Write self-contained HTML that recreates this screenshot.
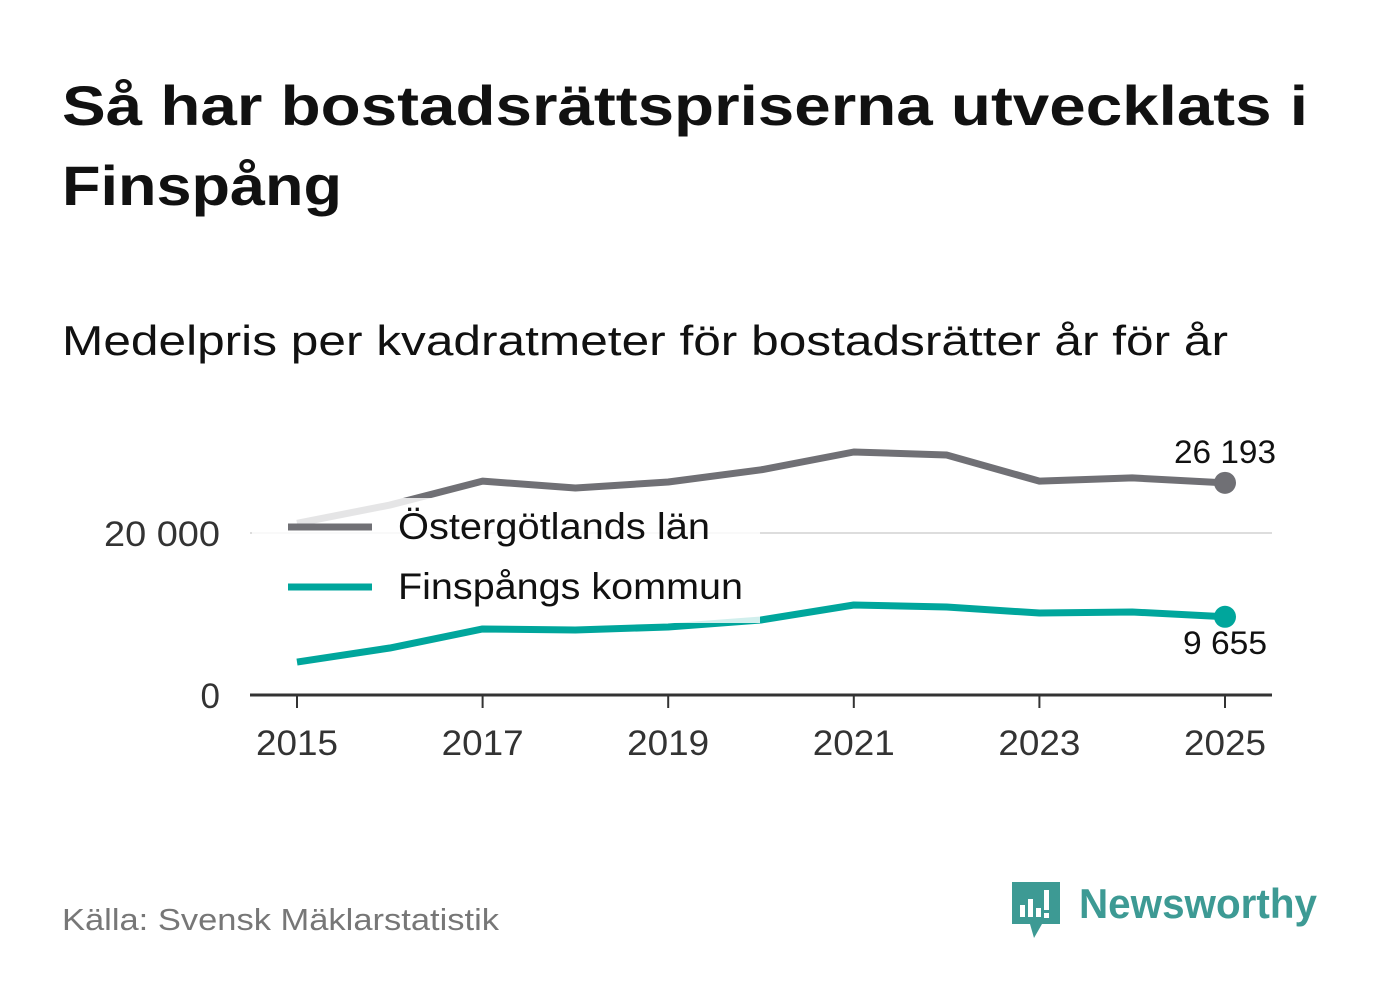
<!DOCTYPE html>
<html><head><meta charset="utf-8"><style>
body{margin:0;background:#fff;}
svg{display:block;font-family:"Liberation Sans","DejaVu Sans",sans-serif;}
</style></head><body>
<svg id="c" width="1382" height="999" viewBox="0 0 1382 999">
<text x="62" y="125" font-size="56" font-weight="bold" fill="#111" textLength="1246" lengthAdjust="spacingAndGlyphs">Så har bostadsrättspriserna utvecklats i</text>
<text x="62" y="205" font-size="56" font-weight="bold" fill="#111" textLength="280" lengthAdjust="spacingAndGlyphs">Finspång</text>
<text x="62" y="355" font-size="42" fill="#111" textLength="1166" lengthAdjust="spacingAndGlyphs">Medelpris per kvadratmeter för bostadsrätter år för år</text>
<g id="plot"></g>
<text x="62" y="930" font-size="31" fill="#777" textLength="437" lengthAdjust="spacingAndGlyphs">Källa: Svensk Mäklarstatistik</text>
<g>
<path d="M1012 882 h48 v42 h-18 l-8 14 l-4 -14 h-18 z" fill="#3d9a94"/>
<rect x="1020" y="905" width="5" height="12" fill="#fff"/><rect x="1028" y="899" width="5" height="18" fill="#fff"/><rect x="1036" y="908" width="5" height="9" fill="#fff"/><rect x="1044" y="890" width="5" height="20" fill="#fff"/><rect x="1044" y="913" width="5" height="5" fill="#fff"/>
<text x="1079" y="918" font-size="42" font-weight="bold" fill="#3d9a94" textLength="238" lengthAdjust="spacingAndGlyphs">Newsworthy</text>
</g>
</svg>
<script>
const years=[2015,2016,2017,2018,2019,2020,2021,2022,2023,2024,2025];
const ostergotland=[21200,23450,26400,25550,26300,27800,30000,29630,26400,26800,26193];
const finspang=[4070,5800,8150,8020,8400,9260,11110,10860,10120,10250,9655];
const yTicks=[0,20000];
const yTickLabels=["0","20 000"];
const xTicks=[2015,2017,2019,2021,2023,2025];
const NS='http://www.w3.org/2000/svg';
const g=document.getElementById('plot');
const X=y=>297+(y-2015)*92.8;
const Y=v=>695-v*0.0081;
function el(t,a){const e=document.createElementNS(NS,t);for(const k in a)e.setAttribute(k,a[k]);g.appendChild(e);return e;}
yTicks.forEach((v,i)=>{
 if(v>0){const l=el('line',{x1:250,x2:1272,y1:Y(v),y2:Y(v),stroke:'#ddd','stroke-width':2});
 
 }
 const t=el('text',{x:220,y:Y(v)+13,'font-size':35,'text-anchor':'end',fill:'#333'});t.textContent=yTickLabels[i];
 if(v>0){t.setAttribute('textLength',116);t.setAttribute('lengthAdjust','spacingAndGlyphs');}
 
 
});
const ax=el('line',{x1:250,x2:1272,y1:695,y2:695,stroke:'#333','stroke-width':3});


xTicks.forEach(yr=>{
 const tk=el('line',{x1:X(yr),x2:X(yr),y1:695,y2:708,stroke:'#333','stroke-width':2});
 
 
 const t=el('text',{x:X(yr),y:755,'font-size':35,'text-anchor':'middle',fill:'#333',textLength:82,lengthAdjust:'spacingAndGlyphs'});t.textContent=yr;
 
 
});
function series(vals,col,name){
 const p=el('polyline',{points:vals.map((v,i)=>X(years[i])+','+Y(v)).join(' '),fill:'none',stroke:col,'stroke-width':7,'stroke-linejoin':'round'});
 
 
 const n=vals.length-1;
 const c=el('circle',{cx:X(years[n]),cy:Y(vals[n]),r:11,fill:col});
 
 
}
series(ostergotland,'#707075','ostergotland');
series(finspang,'#00a69c','finspang');
const fmt=v=>String(v).replace(/\B(?=(\d{3})+(?!\d))/g,' ');
const l1=el('text',{x:1225,y:Y(ostergotland[10])-20,'font-size':32,'text-anchor':'middle',fill:'#111',textLength:102,lengthAdjust:'spacingAndGlyphs'});l1.textContent=fmt(ostergotland[10]);


const l2=el('text',{x:1225,y:Y(finspang[10])+37,'font-size':32,'text-anchor':'middle',fill:'#111',textLength:84,lengthAdjust:'spacingAndGlyphs'});l2.textContent=fmt(finspang[10]);


const bg=el('rect',{x:252,y:498,width:508,height:125,fill:'#fff','fill-opacity':0.82});


[['Östergötlands län','#707075',527,312],['Finspångs kommun','#00a69c',587,345]].forEach(([n,c,y,w])=>{
 const s=el('line',{x1:288,x2:372,y1:y,y2:y,stroke:c,'stroke-width':7});
 
 
 const t=el('text',{x:398,y:y+12,'font-size':37,fill:'#111',textLength:w,lengthAdjust:'spacingAndGlyphs'});t.textContent=n;
 
 
});
</script>
</body></html>
